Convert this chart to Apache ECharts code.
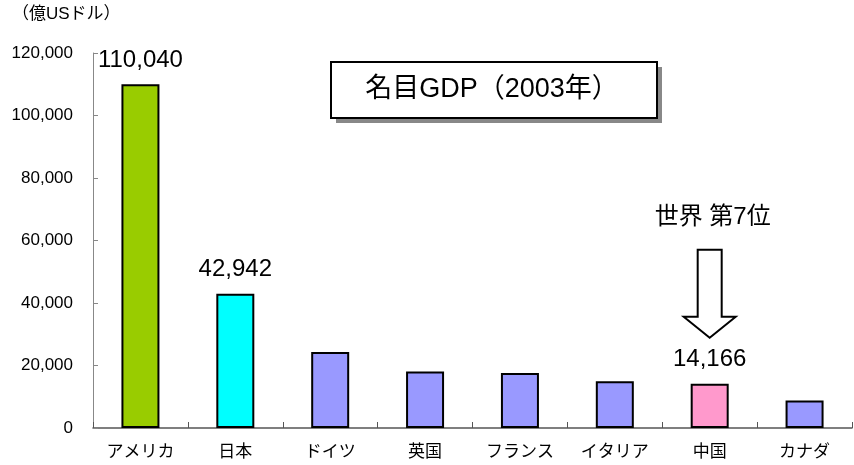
<!DOCTYPE html>
<html><head><meta charset="utf-8">
<script src="https://cdn.jsdelivr.net/npm/echarts@6/dist/echarts.min.js"></script>
<style>html,body{margin:0;padding:0;background:#fff}#c{width:854px;height:465px}</style>
</head><body><div id="c"></div>
<script>
const categories = ['アメリカ','日本','ドイツ','英国','フランス','イタリア','中国','カナダ'];
const values = [110040, 42942, 24300, 18100, 17600, 15000, 14166, 8800];
const colors = ['#99CC00','#00FFFF','#9999FF','#9999FF','#9999FF','#9999FF','#FF99CC','#9999FF'];
const labeled = [true, true, false, false, false, false, true, false];
const yTicks = [0, 20000, 40000, 60000, 80000, 100000, 120000];
const titleText = '名目GDP（2003年）';
const unitText = '（億USドル）';
const noteText = '世界 第7位';
const FONT = '"Liberation Sans", Arial, "Noto Sans CJK JP", sans-serif';

const chart = echarts.init(document.getElementById('c'));
const fmt = v => v.toLocaleString('en-US');
chart.setOption({
  animation: false,
  textStyle: {fontFamily: FONT},
  grid: {left: 93, right: 2, top: 53, bottom: 37},
  xAxis: {
    type: 'category', data: categories,
    axisLine: {lineStyle: {color: '#555', width: 1.5}},
    axisTick: {show: true, inside: true, length: 6, lineStyle: {color: '#555'}},
    axisLabel: {color: '#000', fontSize: 17, margin: 16, fontFamily: FONT}
  },
  yAxis: {
    type: 'value', min: yTicks[0], max: yTicks[yTicks.length-1], interval: 20000,
    axisLine: {show: true, lineStyle: {color: '#888', width: 1}},
    axisTick: {show: true, inside: true, length: 5, lineStyle: {color: '#888'}},
    splitLine: {show: false},
    axisLabel: {color: '#000', fontSize: 17, margin: 20, formatter: v => fmt(v), fontFamily: FONT}
  },
  series: [{
    type: 'bar', barWidth: 38,
    data: values.map((v, i) => ({
      value: v,
      itemStyle: {color: colors[i], borderColor: '#000', borderWidth: 2},
      label: {show: labeled[i], position: 'top', distance: 12, formatter: p => fmt(p.value),
              fontSize: 24, color: '#000', fontFamily: FONT}
    }))
  }]
});

function drawExtras() {
  const ci = categories.indexOf('中国');
  const p = chart.convertToPixel({xAxisIndex: 0, yAxisIndex: 0}, [ci, values[ci]]);
  const cx = p[0], top = p[1];
  const tipY = top - 46, headY = top - 67, shaftTop = top - 134;
  chart.setOption({
    graphic: [
      {type: 'text', left: 12, top: 6, style: {text: unitText, font: '17px ' + FONT, fill: '#000'}},
      {type: 'rect', shape: {x: 336, y: 67, width: 326, height: 56}, style: {fill: '#888'}, z: 10},
      {type: 'rect', shape: {x: 331, y: 62, width: 326, height: 56}, style: {fill: '#fff', stroke: '#000', lineWidth: 2}, z: 11},
      {type: 'text', x: 492, y: 90, z: 12, style: {text: titleText, font: '27px ' + FONT, fill: '#000', align: 'center', verticalAlign: 'middle'}},
      {type: 'text', x: cx + 3, y: shaftTop - 32, z: 12, style: {text: noteText, font: '24px ' + FONT, fill: '#000', align: 'center', verticalAlign: 'middle'}},
      {type: 'polygon', z: 12, shape: {points: [
        [cx + 12, shaftTop], [cx + 12, headY], [cx + 26, headY],
        [cx, tipY], [cx - 26, headY], [cx - 12, headY], [cx - 12, shaftTop]
      ]}, style: {fill: '#fff', stroke: '#000', lineWidth: 2}}
    ]
  });
}
drawExtras();
</script></body></html>
